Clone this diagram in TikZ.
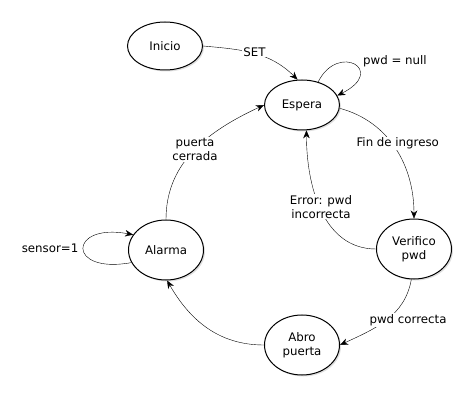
\documentclass[tikz,border=0pt]{standalone}
\usepackage{fontspec}
\setmainfont{DejaVu Sans}
\usetikzlibrary{backgrounds,arrows.meta,shapes.geometric,shadows}

\begin{document}
\begin{tikzpicture}[x=1pt, y=1pt, line width=1pt,
		>={Stealth[length=8pt, width=6.5pt, inset=2.5pt]},
		every node/.style={font=\fontsize{11.8}{14}\selectfont},
		estado/.style={draw, ellipse, fill=white, minimum width=75pt, minimum height=60pt, inner sep=0pt, align=center,
			drop shadow={shadow xshift=1.5pt, shadow yshift=-1.5pt, opacity=0.25}},
		etiq/.style={fill=white, inner sep=1pt, align=center}]
			\useasboundingbox (0, 0) rectangle (475, 400);
			\node[estado, minimum height=48pt] at (165, 354) (ini) {Inicio};
			\node[estado, minimum height=50pt] at (302, 295) (esp) {Espera};
			\node[estado] at (414, 151) (ver) {Verifico\\pwd};
			\node[estado] at (166, 150) (ala) {Alarma};
			\node[estado] at (302, 55) (abro) {Abro\\puerta};
			\begin{scope}[on background layer]
				\draw[->] (ini.east) to[out=-5, in=135] node[etiq, pos=0.5, yshift=2pt] {SET} (esp.100);
				\draw[->] (esp.55) .. controls +(20, 40) and +(50, 25) .. node[etiq, pos=0.5, anchor=west, xshift=8pt, yshift=3pt] {pwd = null} (esp.15);
				\draw[->] (esp.-5) to[out=-15, in=90] node[etiq, pos=0.45, xshift=6pt] {Fin de ingreso} (ver.north);
				\draw[->] (ver.west) to[out=180, in=-90] node[etiq, pos=0.5, yshift=3pt] {Error: pwd\\incorrecta} (esp.-80);
				\draw[->] (ver.-95) to[out=-100, in=25] node[etiq, pos=0.5, xshift=22pt] {pwd correcta} (abro.east);
				\draw[->] (abro.west) to[out=180, in=-60] (ala.-88);
				\draw[->] (ala.north) to[out=90, in=205] node[etiq, pos=0.5] {puerta\\cerrada} (esp.west);
				\draw[->] (ala.200) .. controls +(-65, -12) and +(-65, 12) .. node[etiq, pos=0.5, anchor=east, xshift=-4pt] {sensor=1} (ala.155);
			\end{scope}
		\end{tikzpicture}
\end{document}
